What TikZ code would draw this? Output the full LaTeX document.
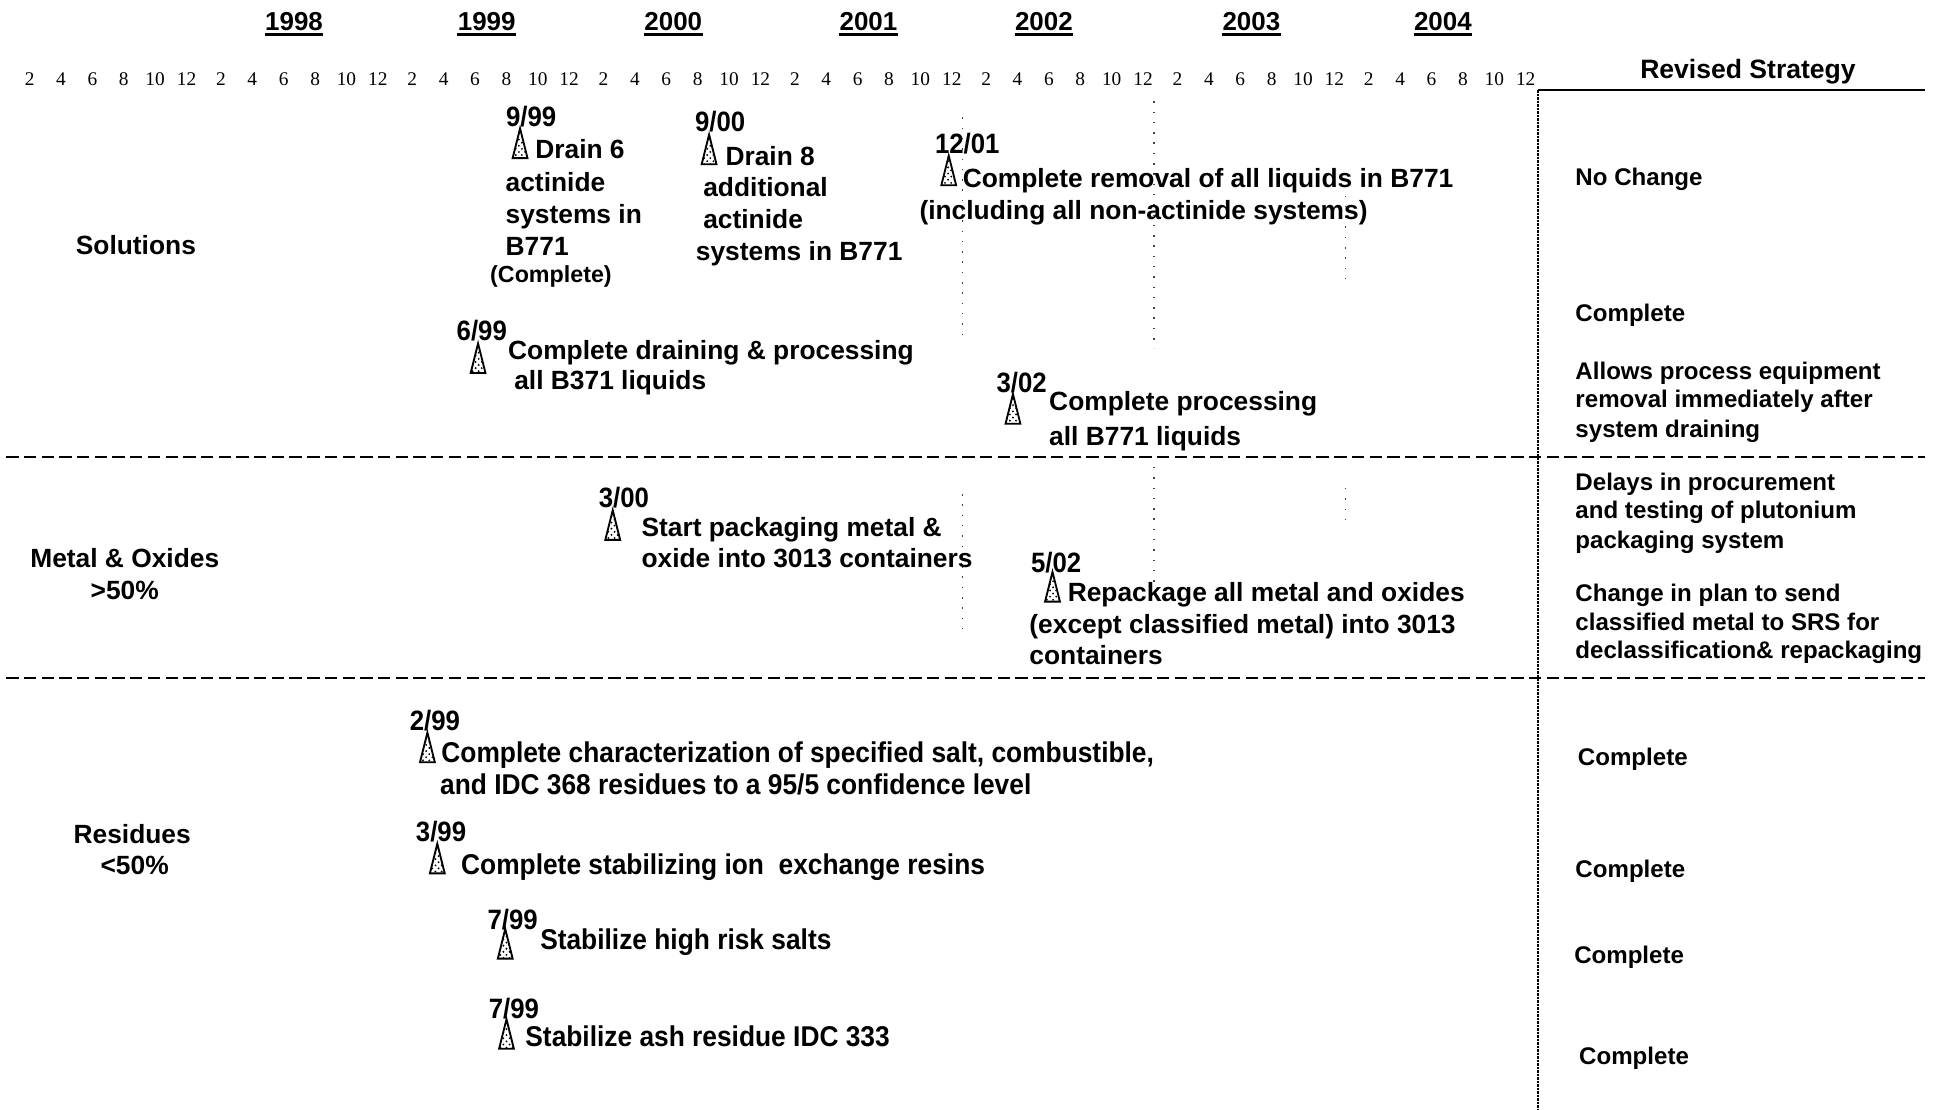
\documentclass[tikz,border=0pt]{standalone}
\usepackage{fontspec}
\setmainfont{Liberation Sans}
\newfontfamily\serifmonths{Liberation Serif}
\newfontfamily\narrowsans[FakeStretch=0.92]{Liberation Sans}
\usetikzlibrary{patterns}

% type sizes used on the chart
\newcommand\tlfont{\fontsize{12.8}{15.6}\selectfont\bfseries}
\newcommand\resfont{\narrowsans\fontsize{13.9}{16}\selectfont\bfseries}
\newcommand\datefont{\narrowsans\fontsize{13.6}{14}\selectfont\bfseries}
\newcommand\stratfont{\fontsize{11.7}{14}\selectfont\bfseries}

\begin{document}
\begin{tikzpicture}[x=0.6pt,y=-0.6pt,
  month/.style={font=\serifmonths\fontsize{9.4}{10}\selectfont, inner sep=0pt},
  yearlbl/.style={font=\fontsize{12.6}{13}\selectfont\bfseries, inner sep=0pt, anchor=base},
  tline/.style={anchor=west, inner sep=0pt, text height=9.2pt, text depth=0pt, font=\tlfont},
  rline/.style={anchor=west, inner sep=0pt, text height=9.6pt, text depth=0pt, font=\resfont},
  dateline/.style={inner sep=0pt, text height=9pt, text depth=0pt, font=\datefont},
  side/.style={inner sep=0pt, text height=9.2pt, text depth=0pt, font=\tlfont},
  strat/.style={anchor=west, inner sep=0pt, text height=8.4pt, text depth=0pt, font=\stratfont},
  rowrule/.style={line width=0.9pt, dash pattern=on 6pt off 2.6pt},
  gridl/.style={line width=0.7pt, black!75, dash pattern=on 0.7pt off 4.3pt},
  colrule/.style={line width=1pt, dash pattern=on 1.2pt off 0.5pt},
  milestone/.pic={\draw[line width=0.9pt, pattern=crosshatch dots] (0,0) -- (-6,24) -- (6,24) -- cycle;}
]
\useasboundingbox (0,0) rectangle (1568,898);

% ---- time axis: month numbers and year headings
\foreach \g in {0,...,7}{
  \foreach \k in {1,...,6}{
    \pgfmathtruncatemacro{\mn}{2*\k}
    \node[month] (m\g-\k) at ({24+154.86*\g+25.4*(\k-1)},64) {\mn};
  }
}
\foreach \yr/\xx in {1998/238,1999/394,2000/545,2001/703,2002/845,2003/1013,2004/1168}{
  \node[yearlbl] (y\yr) at (\xx,24.5) {\yr};
  \draw[line width=1.3pt] ([yshift=-1.9pt]y\yr.base west) -- ([yshift=-1.9pt]y\yr.base east);
}

% ---- faint year grid
\draw[gridl] (779,95) -- (779,275);
\draw[gridl] (779,400) -- (779,510);
\draw[gridl] (934,82) -- (934,282);
\draw[gridl] (934,378) -- (934,472);
\draw[gridl] (1089,150) -- (1089,226);
\draw[gridl] (1089,395) -- (1089,425);

% ---- frame of the strategy column and row separators
\coordinate (ctop) at (1245,73);
\coordinate (cbot) at (1245,898);
\coordinate (ctr) at (1558,73);
\coordinate (r1l) at (5,370);
\coordinate (r1r) at (1558,370);
\coordinate (r2l) at (5,549);
\coordinate (r2r) at (1558,549);
\draw[line width=1.2pt] (ctop) -- (ctr);
\draw[colrule] (ctop) -- (cbot);
\draw[rowrule] (r1l) -- (r1r);
\draw[rowrule] (r2l) -- (r2r);

\node[font=\fontsize{12.9}{14}\selectfont\bfseries, inner sep=0pt, text height=9.3pt, text depth=0pt] (rev) at (1415,56) {Revised Strategy};

% ---- row titles
\node[side] (sol) at (110,198) {Solutions};
\node[side] (mo1) at (101,452) {Metal \& Oxides};
\node[side] (mo2) at (101,478) {>50\%};
\node[side] (res1) at (107,675) {Residues};
\node[side] (res2) at (109,700) {<50\%};

% ---- Solutions milestones
\pic at (421,104) {milestone};
\node[dateline] (d1) at (430,95) {9/99};
\node[tline] (t1a) at (433,121) {Drain 6};
\node[tline] (t1b) at (409,147) {actinide};
\node[tline] (t1c) at (409,173) {systems in};
\node[tline] (t1d) at (409,199) {B771};
\node[inner sep=0pt, text height=8.2pt, text depth=0pt, font=\fontsize{11.3}{13}\selectfont\bfseries] (t1e) at (446,222) {(Complete)};

\pic at (574,109) {milestone};
\node[dateline] (d2) at (583,99) {9/00};
\node[tline] (t2a) at (587,126) {Drain 8};
\node[tline] (t2b) at (569,151) {additional};
\node[tline] (t2c) at (569,177) {actinide};
\node[tline] (t2d) at (563,203) {systems in B771};

\pic at (768,126) {milestone};
\node[dateline] (d3) at (783,117) {12/01};
\node[tline] (t3a) at (779,144) {Complete removal of all liquids in B771};
\node[tline] (t3b) at (744,170) {(including all non-actinide systems)};

\pic at (387,278) {milestone};
\node[dateline] (d4) at (390,268) {6/99};
\node[tline] (t4a) at (411,283) {Complete draining \& processing};
\node[tline] (t4b) at (416,308) {all B371 liquids};

\pic at (820,319) {milestone};
\node[dateline] (d5) at (827,310) {3/02};
\node[tline] (t5a) at (849,325) {Complete processing};
\node[tline] (t5b) at (849,353) {all B771 liquids};

% ---- Metal & Oxides milestones
\pic at (496,413) {milestone};
\node[dateline] (d6) at (505,403) {3/00};
\node[tline] (t6a) at (519,427) {Start packaging metal \&};
\node[tline] (t6b) at (519,452) {oxide into 3013 containers};

\pic at (852,463) {milestone};
\node[dateline] (d7) at (855,456) {5/02};
\node[tline] (t7a) at (864,479) {Repackage all metal and oxides};
\node[tline] (t7b) at (833,505) {(except classified metal) into 3013};
\node[tline] (t7c) at (833,530) {containers};

% ---- Residues milestones
\pic at (346,593) {milestone};
\node[dateline] (d8) at (352,584) {2/99};
\node[rline] (t8a) at (357,609) {Complete characterization of specified salt, combustible,};
\node[rline] (t8b) at (356,635) {and IDC 368 residues to a 95/5 confidence level};

\pic at (354,683) {milestone};
\node[dateline] (d9) at (357,674) {3/99};
\node[rline] (t9) at (373,700) {Complete stabilizing ion\ \ exchange resins};

\pic at (409,752) {milestone};
\node[dateline] (d10) at (415,745) {7/99};
\node[rline] (t10) at (437,761) {Stabilize high risk salts};

\pic at (410,825) {milestone};
\node[dateline] (d11) at (416,817) {7/99};
\node[rline] (t11) at (425,839) {Stabilize ash residue IDC 333};

% ---- revised strategy column
\node[strat] (s1) at (1275,143) {No Change};
\node[strat] (s2) at (1275,253) {Complete};
\node[strat] (s3) at (1275,300) {Allows process equipment};
\node[strat] (s4) at (1275,323) {removal immediately after};
\node[strat] (s5) at (1275,347) {system draining};
\node[strat] (s6) at (1275,390) {Delays in procurement};
\node[strat] (s7) at (1275,413) {and testing of plutonium};
\node[strat] (s8) at (1275,437) {packaging system};
\node[strat] (s9) at (1275,480) {Change in plan to send};
\node[strat] (s10) at (1275,503) {classified metal to SRS for};
\node[strat] (s11) at (1275,526) {declassification\& repackaging};
\node[strat] (s12) at (1277,613) {Complete};
\node[strat] (s13) at (1275,703) {Complete};
\node[strat] (s14) at (1274,773) {Complete};
\node[strat] (s15) at (1278,855) {Complete};
\end{tikzpicture}
\end{document}
